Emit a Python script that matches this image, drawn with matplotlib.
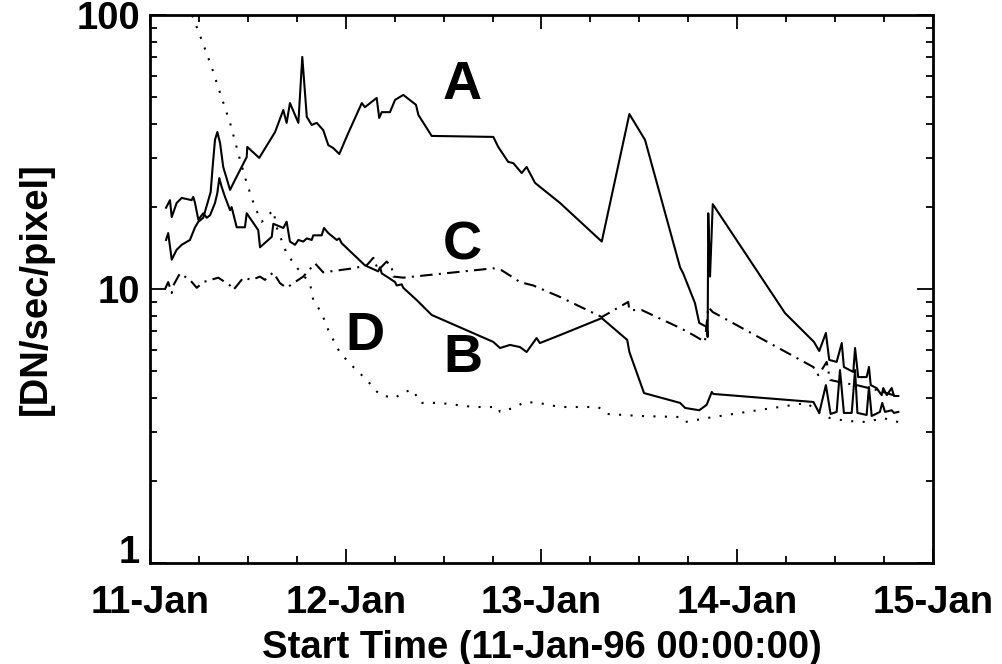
"""Count rate of four regions, 11-15 Jan 1996 (log scale, IDL-style plot)."""

import matplotlib

matplotlib.use("Agg")
import matplotlib.pyplot as plt
from matplotlib.ticker import FixedLocator, LogLocator, NullFormatter

plt.rcParams["font.family"] = ["Liberation Sans", "DejaVu Sans"]
plt.rcParams["font.weight"] = "bold"

# time in days since 11-Jan-96 00:00:00, rates in DN/sec/pixel
a_t = [0.082, 0.093, 0.111, 0.136, 0.162, 0.204, 0.230, 0.247, 0.272, 0.298, 0.310, 0.320, 0.332,
       0.344, 0.358, 0.374, 0.409, 0.434, 0.494, 0.497, 0.558, 0.639, 0.681, 0.698, 0.715, 0.758,
       0.778, 0.801, 0.826, 0.852, 0.885, 0.911, 0.936, 0.967, 1.013, 1.082, 1.098, 1.158, 1.171,
       1.184, 1.226, 1.252, 1.294, 1.359, 1.371, 1.439, 1.754, 1.779, 1.830, 1.856, 1.899, 1.924,
       1.967, 1.992, 2.095, 2.308, 2.449, 2.529, 2.708, 2.724, 2.784, 2.806, 2.844, 2.849, 2.852,
       2.861, 2.875, 3.244, 3.392, 3.419, 3.453, 3.470, 3.508, 3.534, 3.545, 3.593, 3.602, 3.618,
       3.661, 3.673, 3.682, 3.712, 3.738, 3.746, 3.764, 3.789, 3.801, 3.823]
a_v = [15.1, 16.0, 12.8, 13.9, 14.5, 15.1, 16.8, 17.6, 18.2, 21.1, 22.6, 27.9, 35.0,
       37.4, 34.1, 27.9, 23.0, 25.0, 30.3, 33.0, 30.1, 37.4, 45.0, 40.4, 47.7, 40.4,
       70.3, 42.5, 39.7, 40.4, 38.0, 33.5, 32.7, 31.1, 37.1, 47.7, 46.1, 49.8, 42.1,
       44.2, 44.2, 49.0, 51.1, 47.0, 43.2, 36.2, 35.9, 33.0, 29.1, 28.8, 26.5, 27.9,
       24.4, 23.6, 20.6, 14.9, 43.5, 35.0, 12.0, 11.4, 8.89, 7.52, 7.27, 6.68, 18.9,
       11.1, 20.4, 8.17, 6.41, 5.94, 6.91, 5.51, 5.42, 6.35, 5.19, 4.98, 6.09, 4.77,
       4.77, 5.19, 4.46, 4.35, 4.10, 4.35, 4.10, 4.35, 4.07, 4.07]

b_t = [0.082, 0.102, 0.111, 0.136, 0.162, 0.213, 0.221, 0.230, 0.247, 0.272, 0.290, 0.307, 0.332,
       0.344, 0.354, 0.366, 0.383, 0.409, 0.417, 0.443, 0.485, 0.494, 0.553, 0.562, 0.622, 0.630,
       0.681, 0.698, 0.715, 0.741, 0.758, 0.783, 0.801, 0.826, 0.834, 0.877, 0.889, 0.911, 0.954,
       0.967, 0.979, 1.098, 1.166, 1.175, 1.184, 1.218, 1.252, 1.260, 1.286, 1.294, 1.362, 1.439,
       1.754, 1.788, 1.839, 1.890, 1.924, 1.975, 1.992, 2.095, 2.308, 2.438, 2.449, 2.524, 2.708,
       2.734, 2.806, 2.844, 2.870, 2.878, 3.389, 3.419, 3.453, 3.477, 3.508, 3.525, 3.545, 3.585,
       3.602, 3.614, 3.661, 3.673, 3.687, 3.729, 3.741, 3.755, 3.789, 3.801, 3.823]
b_v = [19.8, 21.1, 18.3, 20.6, 21.5, 21.1, 21.7, 20.6, 17.9, 18.9, 18.2, 18.6, 20.6,
       22.4, 25.4, 23.6, 21.7, 19.4, 19.9, 16.8, 16.8, 18.9, 16.4, 14.2, 15.5, 17.3,
       16.7, 17.6, 14.9, 14.5, 15.1, 14.9, 15.3, 15.1, 15.7, 15.7, 16.7, 16.0, 15.1,
       15.3, 14.7, 12.2, 11.6, 12.0, 11.4, 11.0, 10.6, 10.3, 10.4, 10.1, 9.12, 8.04,
       6.41, 6.09, 6.25, 6.14, 5.89, 6.62, 6.35, 6.79, 7.83, 6.52, 5.89, 4.17, 3.84,
       3.68, 3.61, 3.78, 4.21, 4.14, 3.87, 3.53, 4.46, 3.50, 3.56, 5.06, 3.53, 3.53,
       5.06, 3.53, 3.47, 4.39, 3.44, 3.56, 3.84, 3.56, 3.61, 3.53, 3.56]

c_t = [0.077, 0.093, 0.111, 0.119, 0.153, 0.204, 0.239, 0.272, 0.349, 0.409, 0.426, 0.477, 0.520,
       0.562, 0.587, 0.630, 0.664, 0.698, 0.732, 0.783, 0.843, 0.885, 0.962, 1.039, 1.107, 1.141,
       1.166, 1.209, 1.235, 1.243, 1.294, 1.754, 1.797, 1.839, 1.890, 1.958, 2.095, 2.308, 2.443,
       2.449, 2.512, 2.708, 2.776, 2.835, 2.852, 2.875, 3.389, 3.414, 3.431, 3.457, 3.474, 3.542,
       3.610, 3.712, 3.797, 3.823]
c_v = [10.0, 10.6, 9.67, 10.3, 11.4, 10.8, 10.1, 10.6, 11.0, 10.3, 9.92, 11.0, 10.8,
       11.1, 10.8, 11.5, 10.5, 10.1, 10.5, 11.1, 12.4, 11.5, 11.7, 11.9, 12.2, 13.0,
       11.7, 12.6, 12.0, 11.1, 11.0, 11.9, 11.7, 11.2, 10.6, 10.3, 9.35, 7.90, 8.97,
       8.38, 8.38, 7.21, 6.79, 6.41, 8.59, 8.24, 5.19, 4.85, 5.06, 5.42, 4.66, 4.54,
       4.46, 4.28, 4.10, 4.10]

d_t = [0.194, 0.221, 0.264, 0.315, 0.358, 0.409, 0.460, 0.494, 0.536, 0.571, 0.630, 0.647, 0.698,
       0.749, 0.817, 0.834, 0.877, 0.911, 0.971, 1.039, 1.107, 1.175, 1.252, 1.294, 1.345, 1.379,
       1.481, 1.652, 1.779, 1.788, 1.856, 1.916, 1.984, 2.095, 2.290, 2.333, 2.503, 2.708, 2.734,
       2.844, 3.014, 3.355, 3.419, 3.474, 3.559, 3.661, 3.746, 3.823]
d_v = [109, 97.5, 81.1, 64.6, 51.9, 40.4, 29.6, 24.4, 19.9, 17.6, 19.4, 16.8, 13.5,
       12.0, 10.5, 9.12, 8.17, 7.08, 5.84, 5.19, 4.66, 4.10, 4.00, 4.21, 4.28, 3.84,
       3.84, 3.71, 3.71, 3.56, 3.68, 3.87, 3.84, 3.71, 3.71, 3.50, 3.44, 3.41, 3.27,
       3.38, 3.53, 3.84, 3.53, 3.38, 3.30, 3.27, 3.38, 3.27]

day_ticks = [0, 1, 2, 3, 4]
day_labels = ["11-Jan", "12-Jan", "13-Jan", "14-Jan", "15-Jan"]
rate_ticks = [1, 10, 100]
rate_labels = ["1", "10", "100"]

# curve letters: (text, day, rate at the letter's baseline)
letters = [("A", 1.594, 49.4), ("C", 1.594, 12.8), ("D", 1.098, 5.99), ("B", 1.599, 4.98)]

fig = plt.figure(figsize=(10.02, 6.64), dpi=100)
ax = fig.add_axes([0.1497, 0.1521, 0.7814, 0.8253])

ax.plot(a_t, a_v, color="black", linewidth=1.5)
ax.plot(b_t, b_v, color="black", linewidth=1.5)
ax.plot(c_t, c_v, color="black", linewidth=1.5, linestyle=(0, (6, 3, 1, 3)))
ax.plot(d_t, d_v, color="black", linewidth=1.5, linestyle=(0, (1, 4.5)))

for text, t, v in letters:
    ax.text(t, v, text, fontsize=39, fontweight="bold", ha="center", va="baseline")

ax.set_yscale("log")
ax.set_xlim(0, 4)
ax.set_ylim(1, 100)

ax.set_xticks(day_ticks, day_labels)
ax.xaxis.set_minor_locator(FixedLocator([i * 0.25 for i in range(17)]))
ax.set_yticks(rate_ticks, rate_labels)
ax.yaxis.set_minor_locator(LogLocator(base=10, subs=range(2, 10)))
ax.yaxis.set_minor_formatter(NullFormatter())

ax.tick_params(axis="both", which="both", direction="in", top=True, right=True,
               width=1.3, labelsize=27.5)
ax.tick_params(axis="x", which="major", length=10, pad=16)
ax.tick_params(axis="x", which="minor", length=5)
ax.tick_params(axis="y", which="major", length=11.5, pad=7)
ax.tick_params(axis="y", which="minor", length=5)
for label in ax.get_xticklabels() + ax.get_yticklabels():
    label.set_fontweight("bold")
# IDL keeps the bottom label "1" sitting on the axis line
ax.get_yticklabels()[0].set_verticalalignment("baseline")

for spine in ax.spines.values():
    spine.set_linewidth(2)

ax.set_xlabel("Start Time (11-Jan-96 00:00:00)", fontsize=27.5, fontweight="bold", labelpad=6)
ax.set_ylabel("[DN/sec/pixel]", fontsize=27.5, fontweight="bold", labelpad=16)

fig.savefig("out.png", dpi=100)
